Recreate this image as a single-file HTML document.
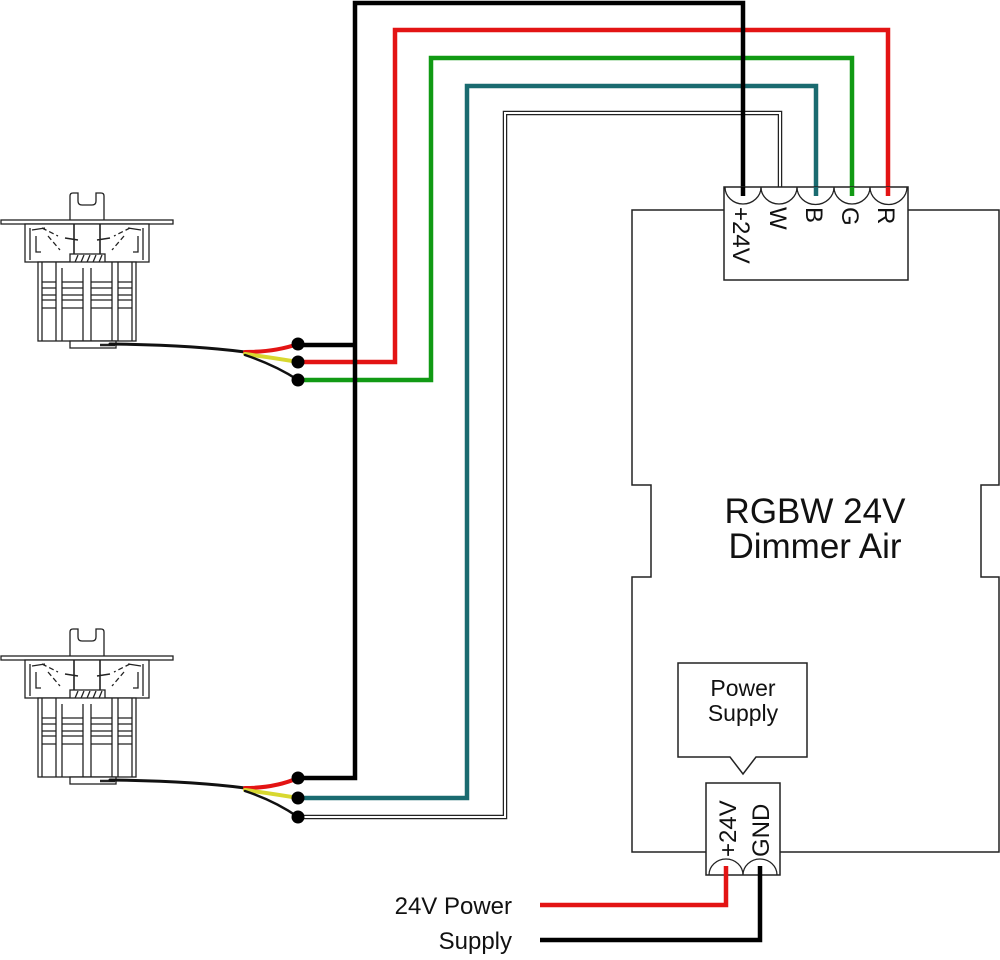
<!DOCTYPE html>
<html><head><meta charset="utf-8"><style>
html,body{margin:0;padding:0;background:#fff}
svg{display:block}
text{font-family:"Liberation Sans",Arial,sans-serif;fill:#111}
</style></head><body>
<svg width="1000" height="960" viewBox="0 0 1000 960" xmlns="http://www.w3.org/2000/svg">
<defs>
<g id="sw" stroke="#222" stroke-width="1.3" fill="none">
  <path d="M70 220 V196 Q70 193 73 193 H78 V201 Q78 205 82 205 H92 Q96 205 96 201 V193 H101 Q104 193 104 196 V220"/>
  <rect x="1" y="220" width="172" height="4" fill="#fff"/>
  <rect x="25" y="224" width="124" height="38" fill="#fff"/>
  <path d="M30 228 V260 M32 230 L45 228 M36 236 V252 L41 252 M143 228 V260 M141 230 L128 228 M138 236 V252 L133 252" />
  <path d="M42 228 L58 236 M48 236 L60 250 M130 228 L114 236 M124 236 L112 250" stroke-dasharray="5 3"/>
  <path d="M74 224 V240 M100 224 V240 M65 238 L78 240 M110 238 L97 240 M74 240 V254 M100 240 V254" stroke-width="1.6"/>
  <rect x="70" y="254" width="35" height="14" fill="#fff"/>
  <path d="M73 267 L78 255 M79 267 L84 255 M85 267 L90 255 M91 267 L96 255 M97 267 L102 255"/>
  <rect x="38" y="262" width="98" height="79" fill="#fff"/>
  <path d="M42 262 V341 M56 262 V341 M62 268 V341 M83 268 V341 M91 268 V341 M112 262 V341 M118 262 V341 M132 262 V341"/>
  <path d="M42 282 H56 M42 288 H56 M42 295 H56 M42 300 H56 M42 308 H56 M62 282 H83 M62 288 H83 M62 295 H83 M62 300 H83 M62 308 H83 M91 282 H112 M91 288 H112 M91 295 H112 M91 300 H112 M91 308 H112 M118 282 H132 M118 288 H132 M118 295 H132 M118 300 H132 M118 308 H132"/>
  <rect x="70" y="341" width="46" height="7" fill="#fff"/>
  <path d="M100 345 H115" stroke-width="2.5"/>
</g>
</defs>

<!-- main box -->
<path d="M632 210 H999 V485 H981 V577 H999 V852 H632 V577 H651 V485 H632 Z" fill="none" stroke="#222" stroke-width="1.5"/>
<text x="815" y="523" font-size="35" text-anchor="middle">RGBW 24V</text>
<text x="815" y="558" font-size="35" text-anchor="middle">Dimmer Air</text>

<!-- wires -->
<g fill="none" stroke-width="4.5" stroke-linejoin="miter">
  <path d="M888 187 V30 H395 V362 H298" stroke="#e31414"/>
  <path d="M852 187 V58 H431 V380 H298" stroke="#119a14"/>
  <path d="M816 187 V86 H467 V798 H298" stroke="#1a6b70"/>
  <path d="M780 187 V113 H505 V817 H298" stroke="#222"/>
  <path d="M780 187 V113 H505 V817 H298" stroke="#fff" stroke-width="2"/>
  <path d="M743 187 V3 H355 V778 H298 M355 345 H298" stroke="#000"/>
</g>

<!-- top connector -->
<rect x="724" y="187" width="184" height="93" fill="#fff" stroke="#222" stroke-width="1.5"/>
<g fill="none" stroke="#222" stroke-width="1.3">
  <path d="M725 187 A18 17 0 0 0 761 187 A18 17 0 0 0 797 187 A18 17 0 0 0 834 187 A18 17 0 0 0 870 187 A18 17 0 0 0 907 187"/>
</g>
<g stroke-width="4.5">
  <path d="M743 187 V196" stroke="#000"/><path d="M816 187 V196" stroke="#1a6b70"/>
  <path d="M852 187 V196" stroke="#119a14"/><path d="M888 187 V196" stroke="#e31414"/>
</g>
<g font-size="24">
  <text transform="translate(733,207) rotate(90)">+24V</text>
  <text transform="translate(770,207) rotate(90)">W</text>
  <text transform="translate(806,207) rotate(90)">B</text>
  <text transform="translate(842,207) rotate(90)">G</text>
  <text transform="translate(878,207) rotate(90)">R</text>
</g>

<!-- power supply callout -->
<path d="M678 663 H807 V757 H756 L743 774 L730 757 H678 Z" fill="#fff" stroke="#222" stroke-width="1.5"/>
<text x="743" y="696" font-size="23" text-anchor="middle">Power</text>
<text x="743" y="721" font-size="23" text-anchor="middle">Supply</text>

<!-- power connector -->
<rect x="706" y="783" width="74" height="92" fill="#fff" stroke="#222" stroke-width="1.5"/>
<path d="M709 875 A17 16 0 0 1 743 875 A17 16 0 0 1 777 875" fill="none" stroke="#222" stroke-width="1.3"/>
<g font-size="24">
  <text transform="translate(736,857) rotate(-90)">+24V</text>
  <text transform="translate(769,857) rotate(-90)">GND</text>
</g>
<g fill="none" stroke-width="4.5">
  <path d="M726 866 V905 H540" stroke="#e31414"/>
  <path d="M760 866 V940 H540" stroke="#000"/>
</g>
<text x="512" y="914" font-size="24" text-anchor="end">24V Power</text>
<text x="512" y="949" font-size="24" text-anchor="end">Supply</text>

<!-- switches -->
<use href="#sw"/>
<use href="#sw" transform="translate(0,436)"/>

<!-- cables -->
<g fill="none" stroke-linecap="round">
  <path d="M110 344 Q190 345 245 352" stroke="#111" stroke-width="3"/>
  <path d="M245 352 Q275 352 298 344" stroke="#e31414" stroke-width="4"/>
  <path d="M245 354 Q275 358 298 362" stroke="#d8d830" stroke-width="4"/>
  <path d="M245 355 Q275 365 298 380" stroke="#111" stroke-width="2.5"/>
  <path d="M110 780 Q190 781 245 788" stroke="#111" stroke-width="3"/>
  <path d="M245 788 Q275 788 298 778" stroke="#e31414" stroke-width="4"/>
  <path d="M245 790 Q275 794 298 798" stroke="#d8d830" stroke-width="4"/>
  <path d="M245 791 Q275 801 298 817" stroke="#111" stroke-width="2.5"/>
</g>
<g fill="#000">
  <circle cx="298" cy="344" r="6.5"/><circle cx="298" cy="362" r="6.5"/><circle cx="298" cy="380" r="6.5"/>
  <circle cx="298" cy="778" r="6.5"/><circle cx="298" cy="798" r="6.5"/><circle cx="298" cy="817" r="6.5"/>
</g>
</svg>
</body></html>
